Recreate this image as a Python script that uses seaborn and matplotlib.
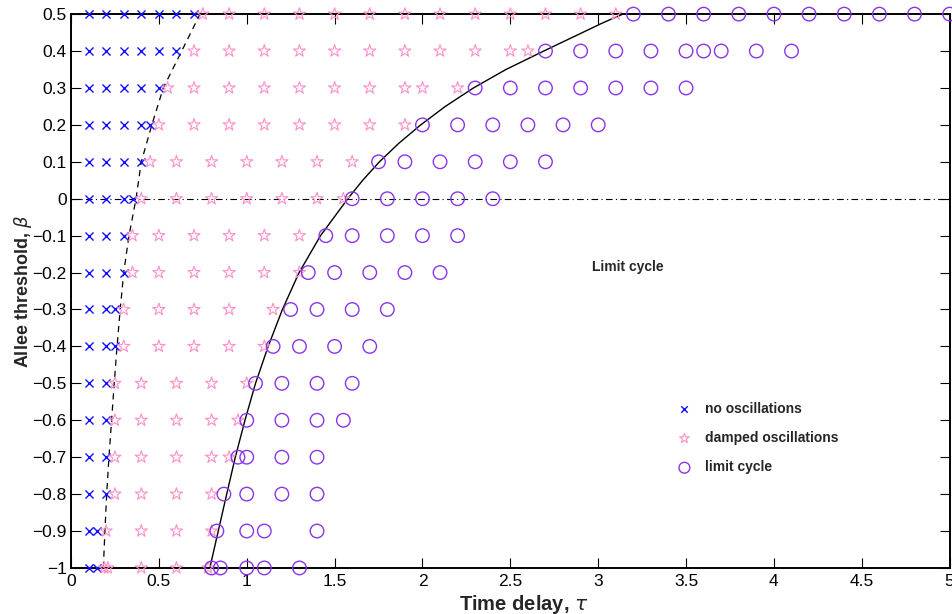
import numpy as np
import pandas as pd
import matplotlib
matplotlib.use("Agg")
import matplotlib.pyplot as plt
import seaborn as sns

sns.set_style("ticks")
plt.rcParams["font.family"] = ["Liberation Sans", "DejaVu Sans"]
plt.rcParams["axes.unicode_minus"] = True

# rows of the grid (Allee threshold)
beta_rows = [0.5, 0.4, 0.3, 0.2, 0.1, 0.0, -0.1, -0.2, -0.3, -0.4,
             -0.5, -0.6, -0.7, -0.8, -0.9, -1.0]

# time delays for each row, per regime
no_osc_tau = [
    [0.1, 0.2, 0.3, 0.4, 0.5, 0.6, 0.7],
    [0.1, 0.2, 0.3, 0.4, 0.5, 0.6],
    [0.1, 0.2, 0.3, 0.4, 0.5],
    [0.1, 0.2, 0.3, 0.4, 0.45],
    [0.1, 0.2, 0.3, 0.4],
    [0.1, 0.2, 0.3, 0.35],
    [0.1, 0.2, 0.3],
    [0.1, 0.2, 0.3],
    [0.1, 0.2, 0.25],
    [0.1, 0.2, 0.25],
    [0.1, 0.2],
    [0.1, 0.2],
    [0.1, 0.2],
    [0.1, 0.2],
    [0.1, 0.15],
    [0.1, 0.15],
]
damped_tau = [
    [0.75, 0.9, 1.1, 1.3, 1.5, 1.7, 1.9, 2.1, 2.3, 2.5, 2.7, 2.9, 3.1],
    [0.7, 0.9, 1.1, 1.3, 1.5, 1.7, 1.9, 2.1, 2.3, 2.5, 2.6],
    [0.55, 0.7, 0.9, 1.1, 1.3, 1.5, 1.7, 1.9, 2.0, 2.2],
    [0.5, 0.7, 0.9, 1.1, 1.3, 1.5, 1.7, 1.9],
    [0.45, 0.6, 0.8, 1.0, 1.2, 1.4, 1.6],
    [0.4, 0.6, 0.8, 1.0, 1.2, 1.4, 1.55],
    [0.35, 0.5, 0.7, 0.9, 1.1, 1.3],
    [0.35, 0.5, 0.7, 0.9, 1.1, 1.3],
    [0.3, 0.5, 0.7, 0.9, 1.15],
    [0.3, 0.5, 0.7, 0.9, 1.1],
    [0.25, 0.4, 0.6, 0.8, 1.0],
    [0.25, 0.4, 0.6, 0.8, 0.95],
    [0.25, 0.4, 0.6, 0.8, 0.9],
    [0.25, 0.4, 0.6, 0.8],
    [0.2, 0.4, 0.6, 0.8],
    [0.19, 0.21, 0.4, 0.6, 0.78],
]
limit_tau = [
    [3.2, 3.4, 3.6, 3.8, 4.0, 4.2, 4.4, 4.6, 4.8, 5.0],
    [2.7, 2.9, 3.1, 3.3, 3.5, 3.6, 3.7, 3.9, 4.1],
    [2.3, 2.5, 2.7, 2.9, 3.1, 3.3, 3.5],
    [2.0, 2.2, 2.4, 2.6, 2.8, 3.0],
    [1.75, 1.9, 2.1, 2.3, 2.5, 2.7],
    [1.6, 1.8, 2.0, 2.2, 2.4],
    [1.45, 1.6, 1.8, 2.0, 2.2],
    [1.35, 1.5, 1.7, 1.9, 2.1],
    [1.25, 1.4, 1.6, 1.8],
    [1.15, 1.3, 1.5, 1.7],
    [1.05, 1.2, 1.4, 1.6],
    [1.0, 1.2, 1.4, 1.55],
    [0.95, 1.0, 1.2, 1.4],
    [0.87, 1.0, 1.2, 1.4],
    [0.83, 1.0, 1.1, 1.4],
    [0.8, 0.85, 1.0, 1.1, 1.3],
]

# boundary curves
dash_beta = [-1.0, -0.9, -0.8, -0.7, -0.6, -0.5, -0.4, -0.3, -0.2, -0.1,
             0.0, 0.1, 0.2, 0.3, 0.4, 0.5]
dash_tau = [0.184, 0.193, 0.203, 0.216, 0.231, 0.246, 0.262, 0.28, 0.30, 0.33,
            0.37, 0.40, 0.46, 0.525, 0.63, 0.734]
solid_beta = [-1.0, -0.9, -0.8, -0.7, -0.6, -0.5, -0.4, -0.3, -0.2, -0.1,
              0.0, 0.05, 0.1, 0.15, 0.2, 0.25, 0.3, 0.35, 0.4, 0.45, 0.475, 0.5]
solid_tau = [0.79, 0.838, 0.886, 0.935, 0.99, 1.05, 1.122, 1.203, 1.298, 1.42,
             1.575, 1.66, 1.755, 1.865, 1.99, 2.13, 2.29, 2.475, 2.69, 2.91,
             3.02, 3.14]


def expand(rows):
    tau, beta = [], []
    for b, ts in zip(beta_rows, rows):
        tau += ts
        beta += [b] * len(ts)
    return pd.DataFrame({"tau": tau, "beta": beta})


no_osc = expand(no_osc_tau)
damped = expand(damped_tau)
limit = expand(limit_tau)

c_blue = "#1010ff"
c_pink = "#ff8fc8"
c_purple = "#8a35e8"

fig = plt.figure(figsize=(9.53, 6.14), dpi=100)
ax = fig.add_axes([0.0745, 0.075, 0.922, 0.902])

ax.axhline(0, color="black", lw=0.8, ls=(0, (6, 3, 1, 3)), zorder=1)
sns.lineplot(x=dash_tau, y=dash_beta, sort=False, color="black", lw=0.9,
             ax=ax, estimator=None, zorder=2)
ax.lines[-1].set_dashes((5, 4))
sns.lineplot(x=solid_tau, y=solid_beta, sort=False, color="black", lw=1.0,
             ax=ax, estimator=None, zorder=2)

sns.scatterplot(data=no_osc, x="tau", y="beta", marker="x", s=34, color=c_blue,
                linewidth=1.0, ax=ax, clip_on=False, zorder=3,
                label="no oscillations")
sns.scatterplot(data=damped, x="tau", y="beta", marker="*", s=85,
                facecolors="none", edgecolors=c_pink, linewidth=0.8, ax=ax,
                clip_on=False, zorder=3, label="damped oscillations")
sns.scatterplot(data=limit, x="tau", y="beta", marker="o", s=95,
                facecolors="none", edgecolors=c_purple, linewidth=1.0, ax=ax,
                clip_on=False, zorder=3, label="limit cycle")

ax.set_xlim(0, 5)
ax.set_ylim(-1, 0.5)
ax.set_xticks(np.arange(0, 5.01, 0.5))
ax.set_xticklabels(["0", "0.5", "1", "1.5", "2", "2.5", "3", "3.5", "4", "4.5", "5"])
yt = np.round(np.arange(-1, 0.51, 0.1), 1)
ax.set_yticks(yt)
ax.set_yticklabels([("%g" % v).replace("-", "\u2212") if v != 0 else "0" for v in yt])
ax.tick_params(direction="in", length=7, width=0.8, top=True, right=True,
               labelsize=12.5, colors="black")
ax.tick_params(axis="y", pad=3)
ax.tick_params(axis="x", pad=4)
for sp in ax.spines.values():
    sp.set_linewidth(1.4)
    sp.set_color("black")

ax.set_xlabel(r"Time delay, $\tau$", fontsize=14.5, fontweight="bold")
ax.set_ylabel(r"Allee threshold, $\beta$", fontsize=13, fontweight="bold")
ax.xaxis.set_label_coords(0.515, -0.045)
ax.yaxis.set_label_coords(-0.042, 0.5)

ax.text(3.17, -0.186, "Limit cycle", fontsize=10, fontweight="bold",
        ha="center", va="center")

leg = ax.legend(loc="upper left", bbox_to_anchor=(0.676, 0.31), frameon=False,
                prop={"weight": "bold", "size": 10}, handletextpad=0.5,
                labelspacing=1.1, markerscale=0.8, borderaxespad=0)

fig.savefig("out.png", dpi=100)
